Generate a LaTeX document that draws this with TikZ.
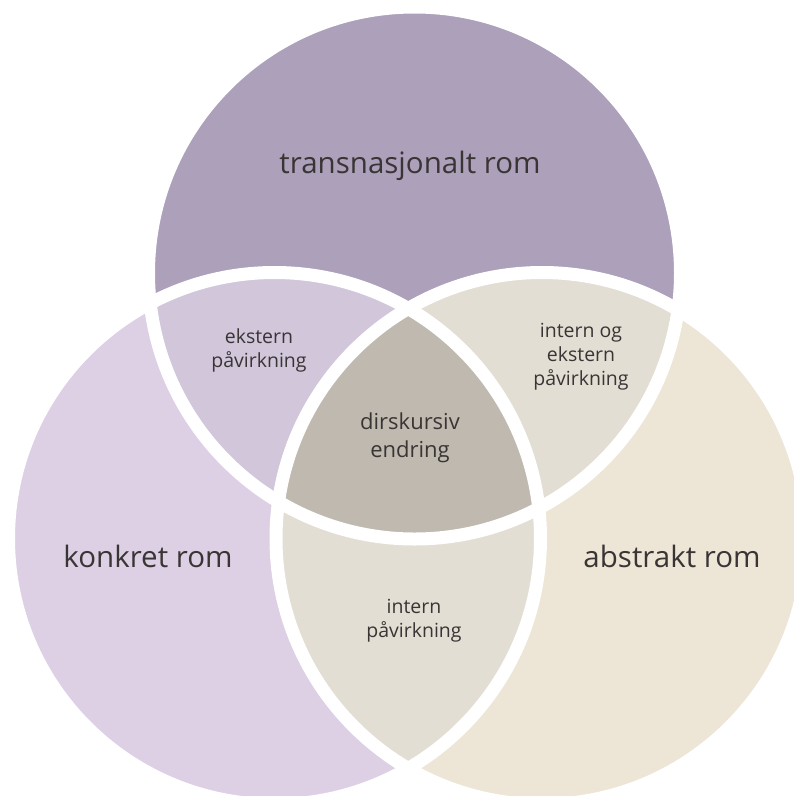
\documentclass[tikz,border=0pt]{standalone}
\usepackage{fontspec}
\setmainfont{Open Sans}
\definecolor{cTop}{HTML}{ACA0BA}
\definecolor{cLeft}{HTML}{DDD0E5}
\definecolor{cRight}{HTML}{EDE6D6}
\definecolor{cTL}{HTML}{D1C6DA}
\definecolor{cTR}{HTML}{E3DED4}
\definecolor{cLR}{HTML}{E3DED4}
\definecolor{cMid}{HTML}{BFB9B0}
\definecolor{cText}{HTML}{3A3535}
\begin{document}
\begin{tikzpicture}[x=1pt,y=-1pt,
  big/.style={text=cText,font=\fontsize{29.5}{34}\selectfont,inner sep=0pt},
  small/.style={text=cText,font=\fontsize{19.5}{24}\selectfont,align=center,inner sep=0pt},
  mid/.style={text=cText,font=\fontsize{22}{28}\selectfont,align=center,inner sep=0pt},
  rim/.style={draw=white,line width=13pt}]
\useasboundingbox (0,0) rectangle (794,796);
\clip (0,0) rectangle (794,796);
\def\R{266}
\coordinate (T) at (414.5,273);
\coordinate (L) at (274.5,538.5);
\coordinate (Rr) at (542,538.5);
\fill[cTop] (T) circle (\R);
\fill[cLeft] (L) circle (\R);
\fill[cRight] (Rr) circle (\R);
\begin{scope}
  \clip (T) circle (\R);
  \fill[cTL] (L) circle (\R);
  \fill[cTR] (Rr) circle (\R);
\end{scope}
\begin{scope}
  \clip (L) circle (\R);
  \fill[cLR] (Rr) circle (\R);
  \clip (Rr) circle (\R);
  \fill[cMid] (T) circle (\R);
\end{scope}
\draw[rim] (T) circle (\R);
\draw[rim] (L) circle (\R);
\draw[rim] (Rr) circle (\R);
\node[big] (ntop) at (410,166) {transnasjonalt rom};
\node[big] (nleft) at (148,556) {konkret rom};
\node[big] (nright) at (672,556) {abstrakt rom};
\node[small] (ntl) at (259,350) {ekstern\\påvirkning};
\node[small] (ntr) at (581,357) {intern og\\ekstern\\påvirkning};
\node[small] (nlr) at (414,621) {intern\\påvirkning};
\node[mid] (nmid) at (410,438) {dirskursiv\\endring};
\end{tikzpicture}
\end{document}
